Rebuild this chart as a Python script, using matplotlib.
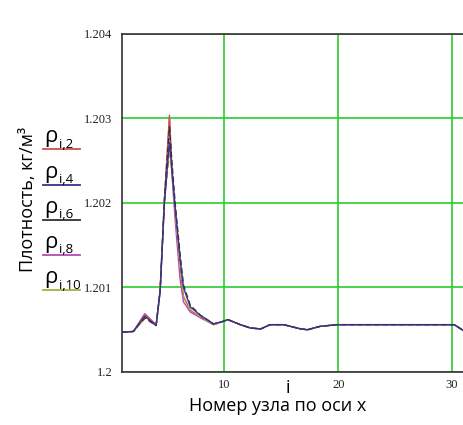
import matplotlib
matplotlib.use("Agg")
import matplotlib.pyplot as plt
from matplotlib.lines import Line2D

# node numbers along x and density at five y-rows
NODE_X = [1, 2, 3, 4, 4.35, 4.73, 5.17, 5.38, 5.67, 6.1, 6.4, 7.0, 7.9, 9.05, 9.9,
          10.3, 11.4, 12.3, 13.2, 14.0, 15.2, 16.7, 17.3, 18.4, 19.9, 21.6, 30.2, 31.0]
TAIL = [1.20060, 1.20062, 1.20056, 1.20052, 1.20051, 1.20056, 1.20056, 1.20051,
        1.20050, 1.20054, 1.20056, 1.20056, 1.20056, 1.20049]
RHO_2 = [1.20047, 1.20048, 1.20068, 1.20055, 1.20097, 1.20204, 1.20304, 1.20243,
         1.20192, 1.20125, 1.20089, 1.20073, 1.20065, 1.20056] + TAIL
RHO_4 = [1.20047, 1.20048, 1.20066, 1.20055, 1.20095, 1.20200, 1.20272, 1.20240,
         1.20195, 1.20135, 1.20100, 1.20077, 1.20067, 1.20057] + TAIL
RHO_6 = [1.20047, 1.20048, 1.20064, 1.20055, 1.20096, 1.20205, 1.20290, 1.20250,
         1.20200, 1.20140, 1.20103, 1.20079, 1.20067, 1.20057] + TAIL
RHO_8 = [1.20047, 1.20048, 1.20069, 1.20056, 1.20097, 1.20204, 1.20300, 1.20235,
         1.20180, 1.20110, 1.20083, 1.20071, 1.20064, 1.20056] + TAIL
RHO_10 = [1.20047, 1.20048, 1.20063, 1.20055, 1.20096, 1.20202, 1.20258, 1.20238,
          1.20190, 1.20122, 1.20090, 1.20074, 1.20065, 1.20056] + TAIL

SERIES = [RHO_2, RHO_4, RHO_6, RHO_8, RHO_10]
SUBSCRIPTS = ["i,2", "i,4", "i,6", "i,8", "i,10"]
COLORS = ["#d0504a", "#34348a", "#303030", "#b848b8", "#a8b040"]
STYLES = ["-", "-", (0, (4, 2)), "-", (0, (5, 3))]
ZORDERS = [2.2, 2.5, 2.4, 2.1, 2.3]

X_TICKS = [10, 20, 30]
Y_TICKS = [1.2, 1.201, 1.202, 1.203, 1.204]
Y_TICK_LABELS = ["1.2", "1.201", "1.202", "1.203", "1.204"]

W, H = 464, 425
fig = plt.figure(figsize=(W / 100, H / 100), dpi=100)
ax = fig.add_axes([122 / W, (H - 372) / H, (W - 122) / W, 338 / H])

for ys, c, ls, z in zip(SERIES, COLORS, STYLES, ZORDERS):
    ax.plot(NODE_X, ys, color=c, lw=1.0, ls=ls, zorder=z)

ax.set_xlim(1, 31.05)
ax.set_ylim(1.2, 1.204)
ax.set_xticks(X_TICKS)
ax.set_xticklabels([str(t) for t in X_TICKS])
ax.set_yticks(Y_TICKS)
ax.set_yticklabels(Y_TICK_LABELS)
ax.tick_params(length=0, labelsize=9, colors="#222222")
ax.tick_params(axis="y", pad=7)
ax.tick_params(axis="x", pad=5)
for lab in ax.get_xticklabels() + ax.get_yticklabels():
    lab.set_family("Liberation Serif")
ax.grid(True, color="#2ecc2e", lw=1.2)
for s in ["left", "top", "bottom"]:
    ax.spines[s].set_color("#333333")
    ax.spines[s].set_linewidth(1.2)
ax.spines["right"].set_visible(False)

fig.text(28 / W, 1 - 199 / H, "Плотность, кг/м³", rotation=90, ha="center",
         va="center", fontsize=13, family="Open Sans")

# legend: rho with subscripts and a coloured underline
for k, (sub, c) in enumerate(zip(SUBSCRIPTS, COLORS)):
    uy = 149.3 + k * 35.2
    fig.text(44 / W, 1 - (uy - 7) / H, "ρ", fontsize=16, family="Open Sans",
             ha="left", va="baseline")
    fig.text(59 / W, 1 - (uy - 1.5) / H, sub, fontsize=9.5, family="Open Sans",
             ha="left", va="baseline")
    fig.add_artist(Line2D([43 / W, 80 / W], [1 - uy / H, 1 - uy / H], color=c, lw=1.3))

fig.text(288 / W, 1 - 388 / H, "i", fontsize=13, family="Open Sans", ha="center", va="center")
fig.text(278 / W, 1 - 406 / H, "Номер узла по оси x", fontsize=13, family="Open Sans",
         ha="center", va="center")

fig.savefig("out.png", dpi=100)
